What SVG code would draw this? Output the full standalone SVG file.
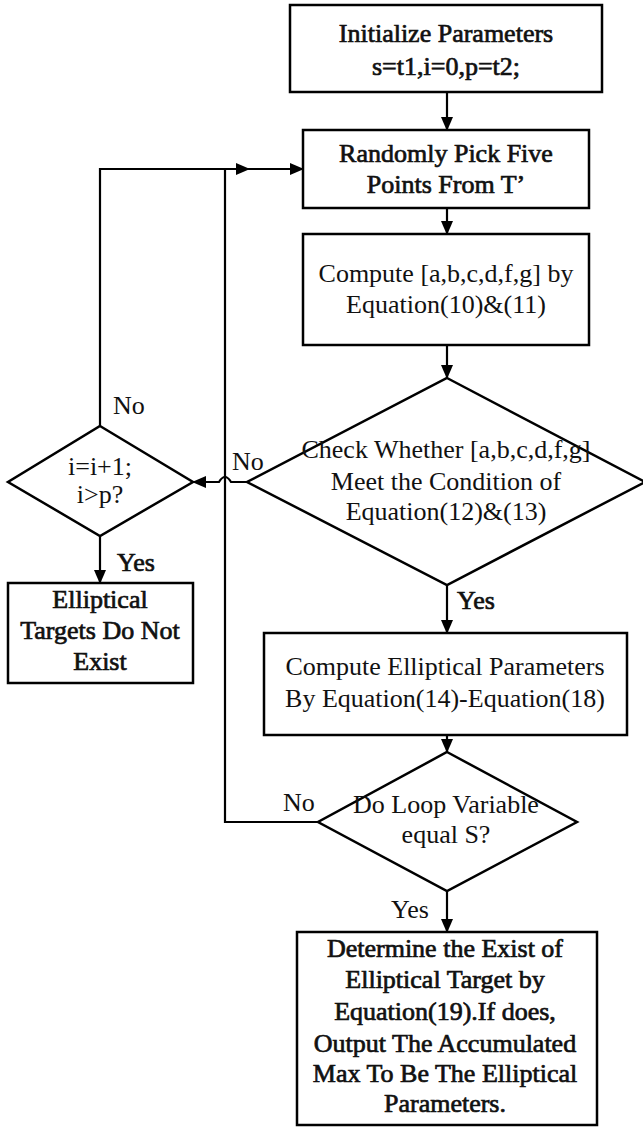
<svg xmlns="http://www.w3.org/2000/svg" width="643" height="1127" viewBox="0 0 643 1127">
<style>
.box{fill:#fff;stroke:#000;stroke-width:2.5}
.ln{fill:none;stroke:#000;stroke-width:2.2}
text{font-family:"Liberation Serif","Times New Roman",serif;font-size:26px;fill:#111;text-anchor:middle}
.b{stroke:#111;stroke-width:0.7}
.l{text-anchor:start}
</style>
<defs>
<marker id="ah" markerWidth="14" markerHeight="12" refX="13" refY="6" orient="auto" markerUnits="userSpaceOnUse">
<path d="M0,0 L14,6 L0,12 Z" fill="#000"/>
</marker>
</defs>
<rect width="643" height="1127" fill="#fff"/>
<g id="connectors">
<line class="ln" x1="447" y1="92" x2="447" y2="130" marker-end="url(#ah)"/>
<line class="ln" x1="447" y1="208" x2="447" y2="234" marker-end="url(#ah)"/>
<line class="ln" x1="447" y1="345" x2="447" y2="378" marker-end="url(#ah)"/>
<path class="ln" d="M247,482 H231 Q225,472 219,482 H193" marker-end="url(#ah)"/>
<path class="ln" d="M100,426 V169 H249" marker-end="url(#ah)"/>
<line class="ln" x1="240" y1="169" x2="303" y2="169" marker-end="url(#ah)"/>
<path class="ln" d="M318,822 H225 V169"/>
<line class="ln" x1="100" y1="536" x2="100" y2="583" marker-end="url(#ah)"/>
<line class="ln" x1="447" y1="585" x2="447" y2="633" marker-end="url(#ah)"/>
<line class="ln" x1="447" y1="735" x2="447" y2="752" marker-end="url(#ah)"/>
<line class="ln" x1="447" y1="891" x2="447" y2="932" marker-end="url(#ah)"/>
<text x="113" y="414" class="l">No</text>
<text x="232" y="470" class="l">No</text>
<text x="117" y="571" class="l b">Yes</text>
<text x="457" y="609" class="l b">Yes</text>
<text x="283" y="811" class="l">No</text>
<text x="391" y="918" class="l">Yes</text>
</g>
<g id="init">
<rect class="box" x="290" y="5" width="312" height="87"/>
<text class="b" x="446" y="42">Initialize Parameters</text>
<text class="b" x="446" y="75">s=t1,i=0,p=t2;</text>
</g>
<g id="pick">
<rect class="box" x="303" y="130" width="286" height="78"/>
<text class="b" x="446" y="162">Randomly Pick Five</text>
<text class="b" x="446" y="193">Points From T’</text>
</g>
<g id="compute1">
<rect class="box" x="303" y="234" width="286" height="111"/>
<text x="446" y="282">Compute [a,b,c,d,f,g] by</text>
<text x="446" y="313">Equation(10)&amp;(11)</text>
</g>
<g id="check">
<polygon class="box" points="447,378 645,482 447,585 247,482"/>
<text x="446" y="458">Check Whether [a,b,c,d,f,g]</text>
<text x="446" y="490">Meet the Condition of</text>
<text x="446" y="520">Equation(12)&amp;(13)</text>
</g>
<g id="incr">
<polygon class="box" points="100,426 193,482 100,536 8,482"/>
<text x="100" y="475">i=i+1;</text>
<text x="100" y="503">i&gt;p?</text>
</g>
<g id="notexist">
<rect class="box" x="8" y="583" width="185" height="100"/>
<text class="b" x="100" y="608">Elliptical</text>
<text class="b" x="100" y="639">Targets Do Not</text>
<text class="b" x="100" y="670">Exist</text>
</g>
<g id="compute2">
<rect class="box" x="264" y="633" width="363" height="102"/>
<text x="445" y="675">Compute Elliptical Parameters</text>
<text x="445" y="707">By Equation(14)-Equation(18)</text>
</g>
<g id="loop">
<polygon class="box" points="447,752 577,822 447,891 318,822"/>
<text x="446" y="813">Do Loop Variable</text>
<text x="446" y="843">equal S?</text>
</g>
<g id="determine">
<rect class="box" x="297" y="932" width="300" height="193"/>
<text class="b" x="445" y="957">Determine the Exist of</text>
<text class="b" x="445" y="988">Elliptical Target by</text>
<text class="b" x="445" y="1020">Equation(19).If does,</text>
<text class="b" x="445" y="1052">Output The Accumulated</text>
<text class="b" x="445" y="1082">Max To Be The Elliptical</text>
<text class="b" x="445" y="1112">Parameters.</text>
</g>
</svg>
